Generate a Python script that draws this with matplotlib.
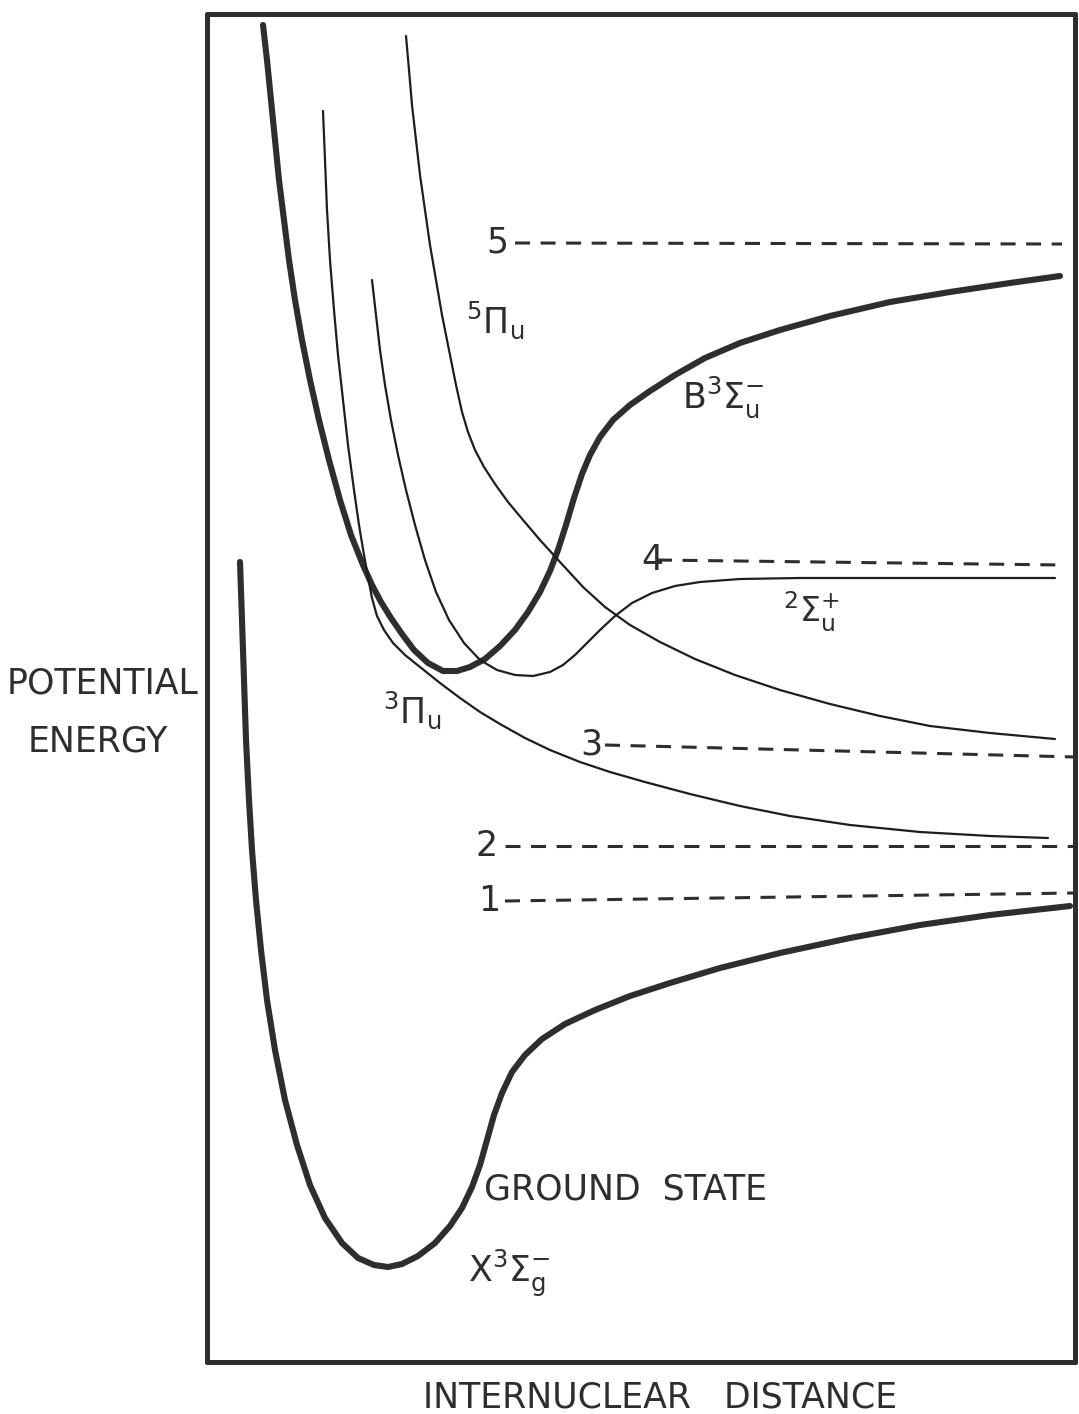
import matplotlib
matplotlib.use("Agg")
import matplotlib.pyplot as plt

plt.rcParams["font.family"] = ["DejaVu Sans"]
plt.rcParams["mathtext.fontset"] = "dejavusans"
plt.rcParams["mathtext.default"] = "regular"
plt.rcParams["lines.scale_dashes"] = False

INK = "#2e2e2e"

# Potential curves: internuclear distance r (arb. units) vs energy E (arb. units)
ground_r = [33, 35, 37, 39, 42, 45, 49, 54, 60, 68, 78, 90, 103, 118, 135, 151,
            167, 181, 195, 211, 228, 243, 255, 265, 273, 280, 287, 295, 305,
            318, 335, 358, 388, 423, 463, 513, 573, 643, 713, 783, 863]
ground_E = [800, 742, 682, 622, 562, 512, 462, 412, 362, 312, 262, 217, 177,
            144, 119, 104, 97, 95, 98, 106, 119, 136, 154, 175, 197, 222, 247,
            269, 290, 307, 323, 338, 352, 366, 379, 394, 409, 424, 437, 447, 456]

b_r = [56, 60, 64, 68, 72, 77, 82, 88, 95, 103, 112, 122, 133, 144, 156, 165,
       174, 184, 195, 207, 221, 236, 250, 263, 278, 293, 308, 321, 333, 343,
       351, 359, 367, 375, 383, 393, 406, 423, 443, 468, 498, 533, 573, 623,
       683, 743, 803, 853]
b_E = [1337, 1302, 1262, 1222, 1182, 1142, 1102, 1062, 1022, 982, 942, 902,
       862, 827, 797, 777, 760, 744, 728, 712, 699, 691, 691, 695, 703, 716,
       732, 750, 770, 791, 812, 837, 864, 888, 907, 925, 942, 957, 971, 987,
       1004, 1019, 1032, 1046, 1060, 1070, 1079, 1086]

pi5_r = [199, 202, 205, 209, 213, 218, 223, 229, 235, 242, 249, 255, 261, 268,
         277, 288, 301, 316, 333, 353, 376, 398, 423, 453, 488, 528, 573, 623,
         673, 723, 783, 848]
pi5_E = [1326, 1292, 1257, 1222, 1187, 1152, 1117, 1082, 1047, 1012, 977, 950,
         930, 912, 895, 878, 860, 842, 822, 800, 775, 755, 737, 720, 703, 687,
         672, 658, 646, 636, 629, 623]

sig2_r = [165, 169, 173, 178, 184, 191, 199, 208, 218, 229, 242, 257, 273, 290,
          308, 326, 343, 356, 368, 380, 393, 408, 425, 445, 468, 493, 533, 593,
          693, 848]
sig2_E = [1082, 1047, 1012, 977, 942, 907, 872, 837, 802, 770, 742, 719, 702,
          692, 687, 686, 690, 697, 707, 719, 732, 746, 759, 769, 776, 780, 783,
          784, 784, 784]

pi3_r = [116, 118, 120, 123, 127, 131, 136, 141, 147, 152, 157, 161, 165, 170,
         177, 186, 198, 213, 233, 253, 273, 293, 318, 343, 373, 403, 438, 483,
         533, 583, 643, 713, 783, 841]
pi3_E = [1251, 1202, 1152, 1102, 1052, 1007, 962, 917, 872, 837, 807, 785,
         764, 746, 732, 719, 707, 695, 679, 664, 650, 638, 624, 612, 600, 590,
         580, 568, 556, 546, 537, 530, 526, 524]

# Dissociation limits (dashed), each with start/end r and E
limit_names = ["5", "4", "3", "2", "1"]
limit_r0 = [308, 450, 398, 298, 298]
limit_r1 = [855, 855, 868, 868, 868]
limit_E0 = [1119, 802, 617, 516, 461]
limit_E1 = [1118, 797, 605, 516, 469]
limit_label_r = [290, 445, 384, 280, 282]

fig = plt.figure(figsize=(10.79, 14.14), dpi=100)
ax = fig.add_axes([207 / 1079, 52 / 1414, 868 / 1079, 1348 / 1414])
ax.set_xlim(0, 868)
ax.set_ylim(0, 1348)
ax.set_xticks([])
ax.set_yticks([])
for sp in ax.spines.values():
    sp.set_linewidth(3.6)
    sp.set_color(INK)
    sp.set_capstyle("round")

thick = dict(color=INK, lw=4.4, solid_capstyle="round", solid_joinstyle="round",
             clip_on=False)
thin = dict(color="#1e1e1e", lw=1.6, solid_capstyle="round",
            solid_joinstyle="round", clip_on=False)

ax.plot(ground_r, ground_E, **thick)
ax.plot(b_r, b_E, **thick)
ax.plot(pi5_r, pi5_E, **thin)
ax.plot(sig2_r, sig2_E, **thin)
ax.plot(pi3_r, pi3_E, **thin)

for name, r0, r1, e0, e1, lr in zip(limit_names, limit_r0, limit_r1,
                                     limit_E0, limit_E1, limit_label_r):
    ax.plot([r0, r1], [e0, e1], color=INK, lw=2.2, dashes=[10.8, 7.6],
            clip_on=False)
    ax.text(lr, e0, name, fontsize=25, color=INK, ha="center", va="center")

# State labels
ax.text(176, 639, r"${}^{3}\Pi_{u}$", fontsize=25, color=INK, va="baseline")
ax.text(259, 1029, r"${}^{5}\Pi_{u}$", fontsize=25, color=INK, va="baseline")
ax.text(475, 954, r"$B^{3}\Sigma_{u}^{-}$", fontsize=25, color=INK,
        va="baseline")
ax.text(576, 739, r"${}^{2}\Sigma_{u}^{+}$", fontsize=24, color=INK,
        va="baseline")
ax.text(419, 172, "GROUND  STATE", fontsize=25, color=INK, ha="center",
        va="center")
ax.text(261, 80, r"$X^{3}\Sigma_{g}^{-}$", fontsize=25, color=INK,
        va="baseline")

# Axis titles
fig.text(103 / 1079, 1 - 683 / 1414, "POTENTIAL", fontsize=25, color=INK,
         ha="center", va="center")
fig.text(98 / 1079, 1 - 742 / 1414, "ENERGY", fontsize=25, color=INK,
         ha="center", va="center")
fig.text(660 / 1079, 1 - 1397 / 1414, "INTERNUCLEAR   DISTANCE", fontsize=25,
         color=INK, ha="center", va="center")

fig.savefig("out.png", dpi=100, facecolor="white")
